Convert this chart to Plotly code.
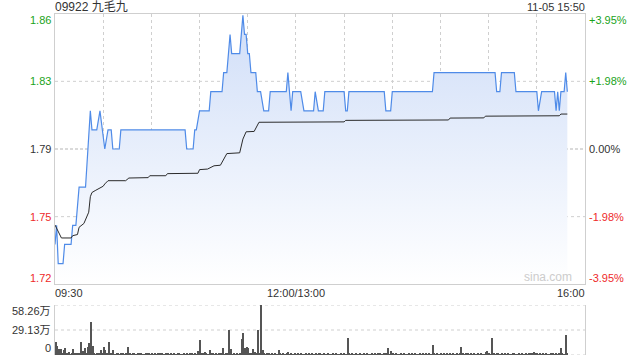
import plotly.graph_objects as go

# ---------------- data ----------------
stock_title = "09922 九毛九"
stamp = "11-05 15:50"
prev_close = 1.79
pct_ticks = [3.95, 1.98, 0.0, -1.98, -3.95]
price_labels = ["1.86", "1.83", "1.79", "1.75", "1.72"]
pct_labels = ["+3.95%", "+1.98%", "0.00%", "-1.98%", "-3.95%"]

time_labels = ["09:30", "12:00/13:00", "16:00"]
time_label_min = [0, 150, 330]
grid_minutes = [30, 60, 90, 120, 150, 180, 210, 240, 270, 300]

# price polyline (minutes since open, price)
price_min = [0, 1, 2, 5, 6, 10, 11, 13, 15, 19, 22, 23, 26, 28, 31, 33, 35, 36, 40, 41,
             81, 82, 86, 87, 88, 90, 96, 97, 104, 105, 107, 109, 110, 115, 117, 118, 119,
             120, 121, 122, 125, 126, 128, 130, 133, 134, 144, 145, 147, 148, 153, 155,
             161, 162, 164, 167, 168, 180, 181, 182, 183, 205, 206, 209, 210, 235, 236,
             274, 275, 277, 278, 286, 287, 300, 301, 303, 311, 312, 313, 314, 315, 317,
             318, 319]
price_val = [1.74, 1.75, 1.73, 1.73, 1.74, 1.74, 1.75, 1.75, 1.77, 1.77, 1.81, 1.80, 1.80,
             1.81, 1.79, 1.80, 1.80, 1.79, 1.79, 1.80,
             1.80, 1.79, 1.79, 1.80, 1.80, 1.81, 1.81, 1.82, 1.82, 1.83, 1.83, 1.85, 1.84,
             1.84, 1.86, 1.85, 1.85,
             1.84, 1.84, 1.83, 1.83, 1.82, 1.82, 1.81, 1.81, 1.82, 1.82, 1.83, 1.81, 1.82,
             1.82, 1.81,
             1.81, 1.82, 1.81, 1.81, 1.82, 1.82, 1.81, 1.81, 1.82, 1.82, 1.81, 1.81, 1.82,
             1.82, 1.83,
             1.83, 1.82, 1.82, 1.83, 1.83, 1.82, 1.82, 1.81, 1.82, 1.82, 1.81, 1.82, 1.81,
             1.82, 1.82,
             1.83, 1.82]

# average price polyline
avg_min = [0, 2, 4, 10, 11, 14, 15, 18, 19, 21, 22, 23, 25, 28, 30, 31, 33, 44, 46, 58, 59,
           69, 70, 89, 90, 95, 99, 103, 107, 115, 117, 119, 124, 127, 180, 181, 245, 246,
           267, 268, 314, 315, 319]
avg_val = [1.7502, 1.7470, 1.7434, 1.7434, 1.7446, 1.7452, 1.7490, 1.7510, 1.7530, 1.7569,
           1.7650, 1.7672, 1.7682, 1.7694, 1.7705, 1.7717, 1.7734, 1.7734, 1.7748, 1.7750,
           1.7760, 1.7760, 1.7771, 1.7773, 1.7792, 1.7795, 1.7812, 1.7815, 1.7876, 1.7880,
           1.7952, 1.7990, 1.7992, 1.8040, 1.8042, 1.8050, 1.8052, 1.8062, 1.8063, 1.8072,
           1.8074, 1.8083, 1.8083]

# per-minute volume (万股)
volume = [
    15.5, 10.5, 7.4, 7.4, 2, 5.4, 8.5, 1.5, 3.9, 1,
    2, 7.4, 1.5, 2, 2.5, 1.5, 15.5, 5, 8.5, 2,
    9.3, 14.4, 38.8, 11, 2.5, 1, 2.5, 1.5, 5.4, 2,
    9.7, 5.4, 2, 14.8, 1.5, 1.5, 5.4, 1, 1.5, 1.2,
    1, 1.5, 2, 1, 1.2, 9.7, 1.5, 1, 2, 1.2,
    1, 1.5, 1.5, 2, 1, 1, 1.2, 2, 1.5, 1,
    1.2, 1, 1.5, 1, 2, 1.2, 1.5, 1, 1, 1.5,
    2, 1, 1.2, 1, 1.5, 1, 1.2, 1.5, 1, 1,
    1.5, 1, 1.2, 1, 1.5, 1.2, 1, 1.5, 1, 4.7,
    17, 1.5, 2, 3, 1.5, 1, 6.2, 2.5, 1.5, 1,
    1.5, 1, 2, 1.5, 8.5, 1, 1.5, 2, 29.5, 7.4,
    1, 1.5, 1, 1.2, 1, 1.5, 18.3, 26, 8.5, 9.7,
    8.5, 1.5, 2, 6.6, 3, 1.5, 29.5, 1.5, 58.26, 5.4,
    1.5, 1, 1.2, 1.5, 1, 1.2, 1, 1.5, 1, 5.4,
    1.5, 1, 1.2, 1, 1.5, 3.9, 1, 2.7, 1, 1.5,
    1, 1.2, 1, 1.5, 1, 1, 1.2, 1, 1.5, 1,
    1.2, 1, 1.5, 1, 1.2, 2.7, 1, 1.5, 1, 1,
    1.2, 1, 1, 1.5, 1, 1.2, 1, 1, 1.5, 1,
    1.2, 1, 20.2, 2.7, 1, 1.5, 1, 1.2, 1, 1,
    1.5, 1, 1.2, 1, 1.5, 1, 1, 1.2, 1, 1.5,
    1, 1.2, 1.5, 1, 1, 1.2, 1.5, 8.5, 1, 4.3,
    1.5, 1, 1.2, 1, 1, 1.5, 1, 1.2, 1, 1,
    1.5, 1, 1.2, 1, 1.5, 1, 1, 1.2, 1, 1.5,
    1, 1.2, 1, 1.5, 1, 11.3, 1.5, 1, 1.2, 1,
    1.5, 1, 1.2, 1, 1.5, 1, 1.2, 1, 1.5, 1,
    1.2, 1, 1.5, 9.7, 1.5, 1, 2, 1.2, 1, 1.5,
    1, 1.2, 1, 1.5, 1, 1.2, 1, 1, 3.5, 4.7,
    1.5, 1, 19.4, 1.5, 1, 1.2, 2, 1, 1.5, 1,
    1.2, 1, 1.5, 1, 1, 1.2, 1.5, 1, 1, 1.2,
    1, 1.5, 1, 1.2, 1, 1.5, 2, 1.5, 3.9, 2,
    2.7, 1, 1.5, 1, 1.2, 1, 1.5, 1, 1, 1.2,
    1.5, 1, 1.2, 1, 1.5, 7.8, 1.5, 1, 23, 1.5,
]
volume_min = list(range(len(volume)))
vol_ticks = [58.26, 29.13, 0]
vol_labels = ["58.26万", "29.13万", "0"]
watermark = "sina.com"

# ---------------- figure ----------------
FONT = "Liberation Sans, Arial, Noto Sans CJK SC, sans-serif"
GREEN = "#1aa31a"
RED = "#ee2a2a"
DARK = "#333333"
GRID = "#cfcfcf"

ymin = prev_close * (1 - pct_ticks[0] / 100)
ymax = prev_close * (1 + pct_ticks[0] / 100)
tick_prices = [prev_close * (1 + p / 100) for p in pct_ticks]

fig = go.Figure()

# baseline for gradient fill
fig.add_trace(go.Scatter(x=[price_min[0], price_min[-1]], y=[ymin, ymin], mode="lines",
                         line=dict(width=0, color="rgba(0,0,0,0)"), hoverinfo="skip",
                         showlegend=False, xaxis="x", yaxis="y"))
fig.add_trace(go.Scatter(x=price_min, y=price_val, mode="lines",
                         line=dict(color="#4f8be8", width=1.2),
                         fill="tonexty",
                         fillgradient=dict(type="vertical",
                                           colorscale=[[0, "rgba(255,255,255,1)"],
                                                       [1, "rgba(208,222,248,1)"]],
                                           start=ymin, stop=ymax),
                         showlegend=False, xaxis="x", yaxis="y"))
fig.add_trace(go.Scatter(x=avg_min, y=avg_val, mode="lines",
                         line=dict(color="#2b2b2b", width=1),
                         showlegend=False, xaxis="x", yaxis="y"))
fig.add_trace(go.Bar(x=volume_min, y=volume, width=0.7,
                     marker=dict(color="#555555", line=dict(width=0)),
                     showlegend=False, xaxis="x2", yaxis="y2"))

shapes = []
for p, pr in zip(pct_ticks, tick_prices):
    if abs(p) == pct_ticks[0]:
        continue
    if p == 0:
        shapes.append(dict(type="line", xref="paper", x0=0, x1=1, yref="y", y0=pr, y1=pr,
                           line=dict(color="#b5b5b5", width=1, dash="3px,2px"), layer="below"))
    else:
        shapes.append(dict(type="line", xref="paper", x0=0, x1=1, yref="y", y0=pr, y1=pr,
                           line=dict(color=GRID, width=1, dash="dot"), layer="below"))
for v in vol_ticks:
    shapes.append(dict(type="line", xref="paper", x0=0, x1=1, yref="y2", y0=v, y1=v,
                       line=dict(color=GRID, width=1, dash="dot"), layer="below"))

ann = []
n = len(pct_ticks)
for i, (p, pr, lab, plab) in enumerate(zip(pct_ticks, tick_prices, price_labels, pct_labels)):
    col = GREEN if p > 0 else (RED if p < 0 else DARK)
    shift = -6 if i == 0 else (6 if i == n - 1 else 0)
    ann.append(dict(x=0, xref="paper", y=pr, yref="y", text=lab, showarrow=False,
                    xanchor="right", yanchor="middle", xshift=-2, yshift=shift,
                    font=dict(size=11, color=col, family=FONT)))
    ann.append(dict(x=1, xref="paper", y=pr, yref="y", text=plab, showarrow=False,
                    xanchor="left", yanchor="middle", xshift=2, yshift=shift,
                    font=dict(size=11, color=col, family=FONT)))
anchors = ["left", "center", "right"]
for lab, m, a in zip(time_labels, time_label_min, anchors):
    xs = -2 if a == "left" else (2 if a == "right" else 0)
    ann.append(dict(x=m, xref="x", y=ymin, yref="y", text=lab, showarrow=False,
                    xanchor=a, yanchor="middle", xshift=xs, yshift=-9,
                    font=dict(size=11, color=DARK, family=FONT)))
vshift = [-6, 0, 7]
for v, lab, s in zip(vol_ticks, vol_labels, vshift):
    ann.append(dict(x=0, xref="paper", y=v, yref="y2", text=lab, showarrow=False,
                    xanchor="right", yanchor="middle", xshift=-2, yshift=s,
                    font=dict(size=11, color=DARK, family=FONT)))
ann.append(dict(x=0, xref="paper", y=1, yref="paper", text=stock_title, showarrow=False,
                xanchor="left", yanchor="middle", xshift=-2, yshift=7,
                font=dict(size=12, color=DARK, family=FONT)))
ann.append(dict(x=1, xref="paper", y=1, yref="paper", text=stamp, showarrow=False,
                xanchor="right", yanchor="middle", xshift=2, yshift=7,
                font=dict(size=11, color=DARK, family=FONT)))
ann.append(dict(x=330, xref="x", y=ymin, yref="y", text=watermark, showarrow=False,
                xanchor="right", yanchor="bottom", xshift=-11, yshift=-2,
                font=dict(size=12, color="#cccccc", family=FONT)))

main_bottom = (355 - 284) / 341
vol_top = (355 - 305) / 341

fig.update_layout(
    width=640, height=360, autosize=False,
    margin=dict(l=55, r=55, t=14, b=5, pad=0),
    paper_bgcolor="white", plot_bgcolor="white",
    bargap=0,
    shapes=shapes, annotations=ann,
    xaxis=dict(domain=[0, 1], range=[0, 330], anchor="y", tickvals=grid_minutes,
               showgrid=True, gridcolor=GRID, griddash="dot", gridwidth=1,
               showticklabels=False, ticks="", showline=True, mirror=True,
               linecolor=GRID, linewidth=1, zeroline=False),
    yaxis=dict(domain=[main_bottom, 1], range=[ymin, ymax], showgrid=False,
               showticklabels=False, ticks="", showline=True, mirror=True,
               linecolor=GRID, linewidth=1, zeroline=False),
    xaxis2=dict(domain=[0, 1], range=[-0.5, 330], anchor="y2", showgrid=False,
                showticklabels=False, ticks="", showline=False, zeroline=False),
    yaxis2=dict(domain=[0, vol_top], range=[0, 58.26], showgrid=False,
                showticklabels=False, ticks="", showline=True, mirror=True,
                linecolor=GRID, linewidth=1, zeroline=False),
    font=dict(family=FONT),
)

fig.write_html("out.html")
